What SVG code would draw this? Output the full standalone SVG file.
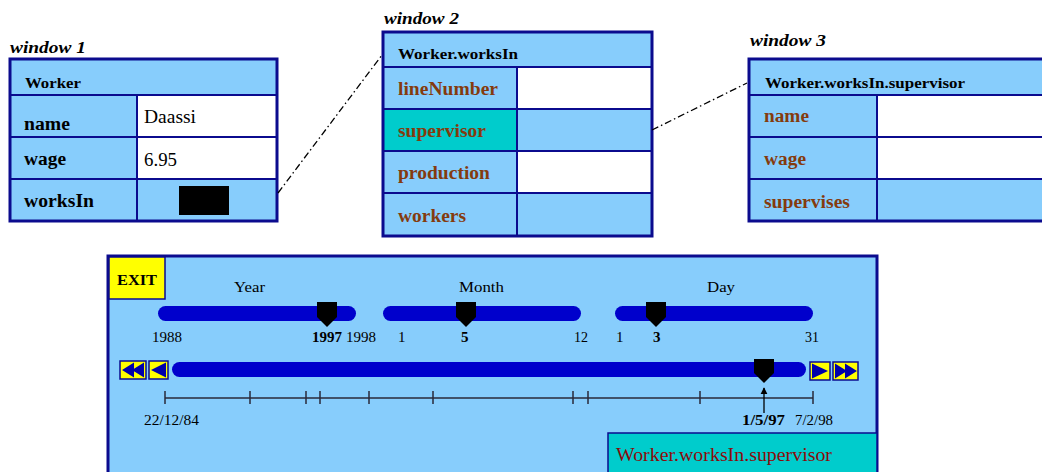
<svg xmlns="http://www.w3.org/2000/svg" width="1042" height="472" viewBox="0 0 1042 472">
  <style>
    text { font-family: "Liberation Serif", "Times New Roman", serif; fill: #000; }
    .title { font-size: 17px; font-weight: bold; font-style: italic; }
    .head { font-size: 15px; font-weight: bold; }
    .lbl { font-size: 18px; font-weight: bold; }
    .attr { font-size: 18px; font-weight: bold; fill: #843b0e; }
    .val { font-size: 18px; }
    .small { font-size: 15px; }
    .smallb { font-size: 15px; font-weight: bold; }
    .cell { fill: #87cdfc; }
    .white { fill: #ffffff; }
    .sel { fill: #00cccc; }
    .frame { fill: none; stroke: #0b0b8e; stroke-width: 3; }
    .grid { stroke: #0b0b8e; stroke-width: 2; fill: none; }
    .link { stroke: #000; stroke-width: 1.3; fill: none; stroke-dasharray: 7 3 1.5 3; }
    .bar { fill: #0000cc; }
    .thumb { fill: #000; }
    .btn { fill: #ffff00; stroke: #0b0b8e; stroke-width: 1.5; }
    .tri { fill: #0000aa; }
    .axis { stroke: #2a2a3a; stroke-width: 1.5; fill: none; }
  </style>
  <defs>
    <marker id="tip" viewBox="0 0 10 10" refX="9" refY="5" markerWidth="7" markerHeight="8" orient="auto" markerUnits="userSpaceOnUse">
      <path d="M0,0 L10,5 L0,10 Z" fill="#000"/>
    </marker>
  </defs>

  <rect width="1042" height="472" fill="#ffffff"/>

  <!-- Worker object -->
  <g id="window1">
    <text class="title" x="10" y="53" textLength="76" lengthAdjust="spacingAndGlyphs">window 1</text>
    <rect class="cell" x="10" y="59" width="267" height="162"/>
    <rect class="white" x="137" y="95" width="140" height="84"/>
    <path class="grid" d="M10,95 H277 M10,137 H277 M10,179 H277 M137,95 V221"/>
    <rect class="frame" x="10" y="59" width="267" height="162"/>
    <text class="head" x="25" y="88" textLength="56" lengthAdjust="spacingAndGlyphs">Worker</text>
    <text class="lbl" x="24" y="130" textLength="46" lengthAdjust="spacingAndGlyphs">name</text>
    <text class="val" x="144" y="123" textLength="52" lengthAdjust="spacingAndGlyphs">Daassi</text>
    <text class="lbl" x="24" y="165" textLength="42" lengthAdjust="spacingAndGlyphs">wage</text>
    <text class="val" x="144" y="166" textLength="33" lengthAdjust="spacingAndGlyphs">6.95</text>
    <text class="lbl" x="24" y="207" textLength="70" lengthAdjust="spacingAndGlyphs">worksIn</text>
    <rect x="179" y="186" width="50" height="29" fill="#000"/>
  </g>

  <!-- Worker.worksIn object -->
  <g id="window2">
    <text class="title" x="384" y="24" textLength="75" lengthAdjust="spacingAndGlyphs">window 2</text>
    <rect class="cell" x="383" y="32" width="269" height="204"/>
    <rect class="white" x="517" y="67" width="135" height="42"/>
    <rect class="white" x="517" y="151" width="135" height="42"/>
    <rect class="sel" x="383" y="109" width="134" height="42"/>
    <path class="grid" d="M383,67 H652 M383,109 H652 M383,151 H652 M383,193 H652 M517,67 V236"/>
    <rect class="frame" x="383" y="32" width="269" height="204"/>
    <text class="head" x="398" y="59" textLength="120" lengthAdjust="spacingAndGlyphs">Worker.worksIn</text>
    <text class="attr" x="398" y="95" textLength="100" lengthAdjust="spacingAndGlyphs">lineNumber</text>
    <text class="attr" x="398" y="137" textLength="88" lengthAdjust="spacingAndGlyphs">supervisor</text>
    <text class="attr" x="398" y="179" textLength="92" lengthAdjust="spacingAndGlyphs">production</text>
    <text class="attr" x="398" y="222" textLength="68" lengthAdjust="spacingAndGlyphs">workers</text>
  </g>

  <!-- Worker.worksIn.supervisor object -->
  <g id="window3">
    <text class="title" x="750" y="46" textLength="76" lengthAdjust="spacingAndGlyphs">window 3</text>
    <rect class="cell" x="749" y="59" width="300" height="162"/>
    <rect class="white" x="877" y="95" width="170" height="84"/>
    <path class="grid" d="M749,95 H1045 M749,137 H1045 M749,179 H1045 M877,95 V221"/>
    <rect class="frame" x="749" y="59" width="300" height="162"/>
    <text class="head" x="765" y="88" textLength="200" lengthAdjust="spacingAndGlyphs">Worker.worksIn.supervisor</text>
    <text class="attr" x="764" y="122" textLength="45" lengthAdjust="spacingAndGlyphs">name</text>
    <text class="attr" x="764" y="165" textLength="42" lengthAdjust="spacingAndGlyphs">wage</text>
    <text class="attr" x="764" y="208" textLength="86" lengthAdjust="spacingAndGlyphs">supervises</text>
  </g>

  <!-- navigation links between windows -->
  <g id="connectors">
    <line class="link" x1="278" y1="193" x2="382" y2="55"/>
    <line class="link" x1="652" y1="130" x2="747" y2="83"/>
  </g>

  <!-- time navigation panel -->
  <g id="timePanel">
    <rect class="cell" x="108" y="256" width="769" height="220"/>
    <rect class="frame" x="108" y="256" width="769" height="220"/>

    <g id="exit">
      <rect x="109" y="257" width="56" height="42" fill="#ffff00" stroke="#0b0b8e" stroke-width="1.5"/>
      <text class="smallb" x="117" y="285" textLength="40" lengthAdjust="spacingAndGlyphs">EXIT</text>
    </g>

    <g id="yearSlider">
      <text class="small" x="234" y="292" textLength="31" lengthAdjust="spacingAndGlyphs">Year</text>
      <rect class="bar" x="158" y="306" width="198" height="15" rx="7.5"/>
      <path class="thumb" d="M317,302 H337 V317 L327,327 L317,317 Z"/>
      <text class="small" x="152" y="342" textLength="30" lengthAdjust="spacingAndGlyphs">1988</text>
      <text class="smallb" x="312" y="342" textLength="30" lengthAdjust="spacingAndGlyphs">1997</text>
      <text class="small" x="346" y="342" textLength="30" lengthAdjust="spacingAndGlyphs">1998</text>
    </g>

    <g id="monthSlider">
      <text class="small" x="459" y="292" textLength="45" lengthAdjust="spacingAndGlyphs">Month</text>
      <rect class="bar" x="383" y="306" width="198" height="15" rx="7.5"/>
      <path class="thumb" d="M456,302 H476 V317 L466,327 L456,317 Z"/>
      <text class="small" x="398" y="342">1</text>
      <text class="smallb" x="461" y="342">5</text>
      <text class="small" x="574" y="342" textLength="14" lengthAdjust="spacingAndGlyphs">12</text>
    </g>

    <g id="daySlider">
      <text class="small" x="707" y="292" textLength="28" lengthAdjust="spacingAndGlyphs">Day</text>
      <rect class="bar" x="615" y="306" width="198" height="15" rx="7.5"/>
      <path class="thumb" d="M646,302 H666 V317 L656,327 L646,317 Z"/>
      <text class="small" x="616" y="342">1</text>
      <text class="smallb" x="653" y="342">3</text>
      <text class="small" x="805" y="342" textLength="14" lengthAdjust="spacingAndGlyphs">31</text>
    </g>

    <g id="timeline">
      <rect class="btn" x="120" y="361" width="26" height="18"/>
      <path class="tri" d="M122,370 L134,362.5 V377.5 Z M132,370 L144,362.5 V377.5 Z"/>
      <rect class="btn" x="149" y="361" width="19" height="18"/>
      <path class="tri" d="M151,370 L166,362.5 V377.5 Z"/>

      <rect class="bar" x="172" y="362" width="634" height="15" rx="7.5"/>
      <path class="thumb" d="M754,359 H774 V373 L764,383 L754,373 Z"/>

      <rect class="btn" x="810" y="362" width="20" height="18"/>
      <path class="tri" d="M812,363.5 L828,371 L812,378.5 Z"/>
      <rect class="btn" x="833" y="362" width="25" height="18"/>
      <path class="tri" d="M835,363.5 L847,371 L835,378.5 Z M845,363.5 L857,371 L845,378.5 Z"/>

      <path class="axis" d="M165,398 H813 M165,391 V404 M250,391 V404 M306,391 V404 M320,391 V404 M369,391 V404 M433,391 V404 M573,391 V404 M588,391 V404 M700,391 V404 M813,391 V404"/>
      <line x1="764" y1="413" x2="764" y2="388" stroke="#000" stroke-width="1.3" marker-end="url(#tip)"/>

      <text class="small" x="144" y="425" textLength="55" lengthAdjust="spacingAndGlyphs">22/12/84</text>
      <text class="smallb" x="742" y="425" textLength="43" lengthAdjust="spacingAndGlyphs">1/5/97</text>
      <text class="small" x="795" y="425" textLength="38" lengthAdjust="spacingAndGlyphs">7/2/98</text>
    </g>

    <g id="currentPath">
      <rect x="608" y="433" width="269" height="45" fill="#00cccc" stroke="#0b0b8e" stroke-width="1.5"/>
      <text x="616" y="461" font-size="18" fill="#8b0a0a" style="fill:#8b0a0a" textLength="216" lengthAdjust="spacingAndGlyphs">Worker.worksIn.supervisor</text>
    </g>
  </g>
</svg>
